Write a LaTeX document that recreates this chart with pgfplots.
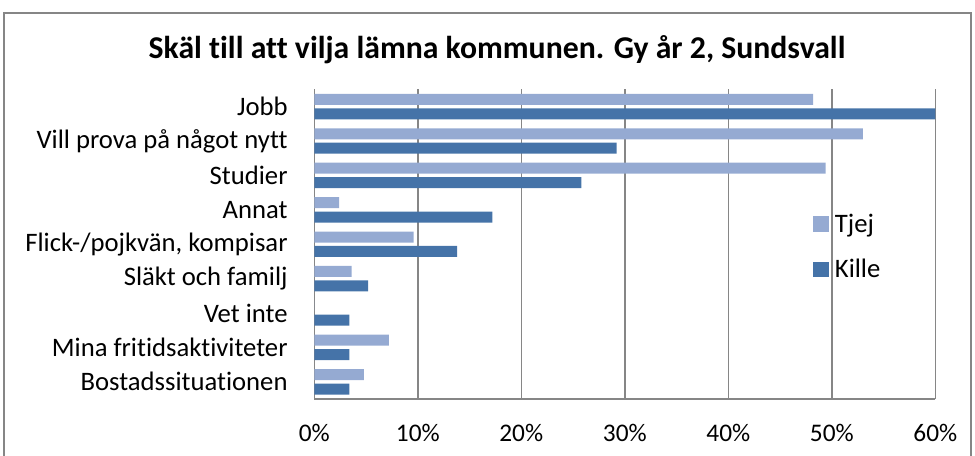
\documentclass[border=0pt]{standalone}
\usepackage{pgfplots}
\pgfplotsset{compat=1.18}
\usepackage{fontspec}
\setmainfont{Carlito}[Ligatures=NoCommon]
\definecolor{tjej}{RGB}{149,170,210}
\definecolor{kille}{RGB}{69,115,168}
\definecolor{gridgray}{RGB}{134,134,134}
\begin{document}
\begin{tikzpicture}
\useasboundingbox (0,0) rectangle (731.25pt,-342pt);
\draw[gridgray, line width=1.2pt] ({4*0.75pt},{-13*0.75pt}) rectangle ({971*0.75pt},{-480*0.75pt});
\node[font=\fontsize{23.8}{28}\selectfont\bfseries] at ({497*0.75pt},{-50*0.75pt}) {Skäl till att vilja lämna kommunen. Gy år 2, Sundsvall};
\begin{axis}[
  at={({314.3*0.75pt},{-399*0.75pt})}, anchor=south west,
  scale only axis, width={621*0.75pt}, height={309.6*0.75pt},
  xbar, bar width={11*0.75pt},
  xmin=0, xmax=60, ymin=-0.5, ymax=8.5,
  xtick={0,10,...,60},
  xticklabel={\pgfmathprintnumber{\tick}\%},
  ytick={0,...,8},
  yticklabels={Bostadssituationen,Mina fritidsaktiviteter,Vet inte,Släkt och familj,{Flick-/pojkvän, kompisar},Annat,Studier,Vill prova på något nytt,Jobb},
  axis x line*=bottom, axis y line*=left,
  axis line style={gridgray, line width=1.2pt, -},
  xmajorgrids, major grid style={gridgray, line width=1.2pt},
  major tick length=0pt,
  xticklabel style={font=\fontsize{19}{22}\selectfont, yshift=-15.5pt},
  yticklabel style={font=\fontsize{20}{23}\selectfont, xshift=-16.5pt},
  /pgf/number format/assume math mode=true,
  legend style={draw=none, fill=none, at={(0.803,0.607)}, anchor=north west, inner sep=0pt,
     font=\fontsize{20}{23}\selectfont, row sep=14.5pt},
  legend cell align=left,
  legend image code/.code={\fill[#1] (0pt,-5.8pt) rectangle (12pt,5.8pt); \path (14.25pt,0pt);},
]
\addplot[fill=tjej, draw=none, bar shift={5.4pt}] coordinates {
 (4.8,0) (7.2,1) (0,2) (3.6,3) (9.6,4) (2.4,5) (49.4,6) (53.0,7) (48.2,8)};
\addplot[fill=kille, draw=none, bar shift={-5.4pt}] coordinates {
 (3.4,0) (3.4,1) (3.4,2) (5.2,3) (13.8,4) (17.2,5) (25.8,6) (29.2,7) (60.2,8)};
\legend{Tjej,Kille}
\end{axis}
\end{tikzpicture}
\end{document}
